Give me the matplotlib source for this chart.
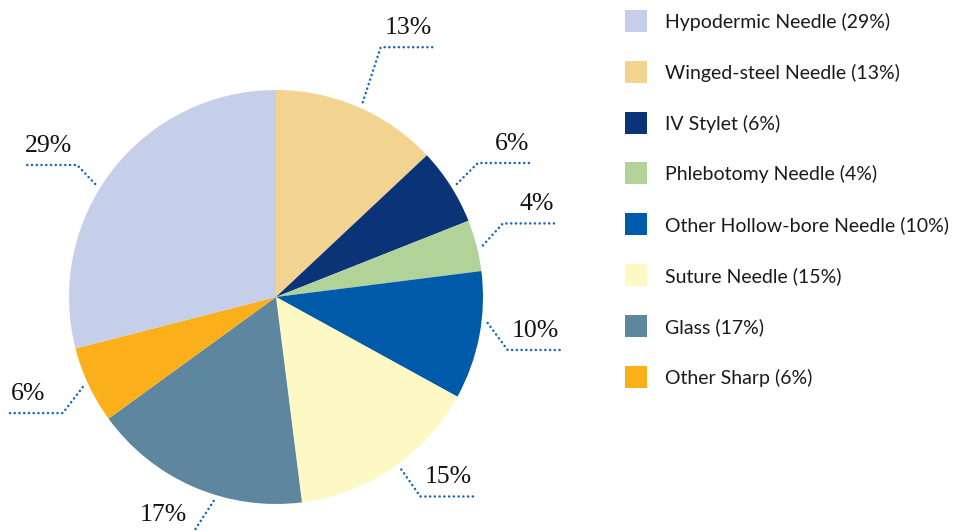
import matplotlib
matplotlib.use("Agg")
import matplotlib.pyplot as plt
import numpy as np
from matplotlib.patches import Rectangle

# data (pie order: clockwise from 12 o'clock)
labels = ["Winged-steel Needle", "IV Stylet", "Phlebotomy Needle",
          "Other Hollow-bore Needle", "Suture Needle", "Glass",
          "Other Sharp", "Hypodermic Needle"]
values = [13, 6, 4, 10, 15, 17, 6, 29]
colors = ["#F2D490", "#0A3378", "#B1D299", "#005AAA", "#FEF9C4",
          "#5E869F", "#FBAF1A", "#C6CFE9"]
# legend order
legend_order = [7, 0, 1, 2, 3, 4, 5, 6]

# layout (pixel units)
W, H = 956, 531
cx, cy, R = 276, H - 297, 207
lead_ang = [66, 32, 14, -7, -54, -107, -155, 148]   # where leader leaves the pie
elbow = [(18, 55), (21, 21), (20, 22), (20, -27), (19, -27),
         (-22, -34), (-20, -26), (-18, 19)]
hlen = 53
dot_col = "#1565BE"

fig = plt.figure(figsize=(W / 100, H / 100), dpi=100)
ax = fig.add_axes([0, 0, 1, 1])
ax.pie(values, colors=colors, startangle=90, counterclock=False,
       center=(cx, cy), radius=R, frame=True,
       wedgeprops=dict(linewidth=0, antialiased=True))
ax.set_xlim(0, W)
ax.set_ylim(0, H)
ax.set_aspect("equal")
ax.axis("off")

# leader lines + percent labels
for i, v in enumerate(values):
    a = np.deg2rad(lead_ang[i])
    x0 = cx + 1.03 * R * np.cos(a)
    y0 = cy + 1.03 * R * np.sin(a)
    x1, y1 = x0 + elbow[i][0], y0 + elbow[i][1]
    right = elbow[i][0] > 0
    x2 = x1 + hlen if right else x1 - hlen
    ax.plot([x0, x1, x2], [y0, y1, y1], color=dot_col, lw=1.8,
            linestyle=(0, (0.05, 1.85)), dash_capstyle="round",
            solid_capstyle="round")
    # 17% sits just above the bottom edge, its rule runs off the canvas
    ty = max(y1 + 13, 10)
    if right:
        ax.text(x2 - 2, ty, f"{v}%", ha="right", va="baseline",
                fontsize=18.5, family="Liberation Serif", color="#111111")
    else:
        ax.text(x2 + 1, ty, f"{v}%", ha="left", va="baseline",
                fontsize=18.5, family="Liberation Serif", color="#111111")

# legend
for row, i in enumerate(legend_order):
    yc = H - (21 + row * 50.8)
    ax.add_patch(Rectangle((625, yc - 11), 22, 22, color=colors[i], lw=0))
    ax.text(665, yc - 1, f"{labels[i]} ({values[i]}%)", ha="left", va="center",
            fontsize=14, family="Lato", color="#1a1a1a")

fig.savefig("out.png", dpi=100)
